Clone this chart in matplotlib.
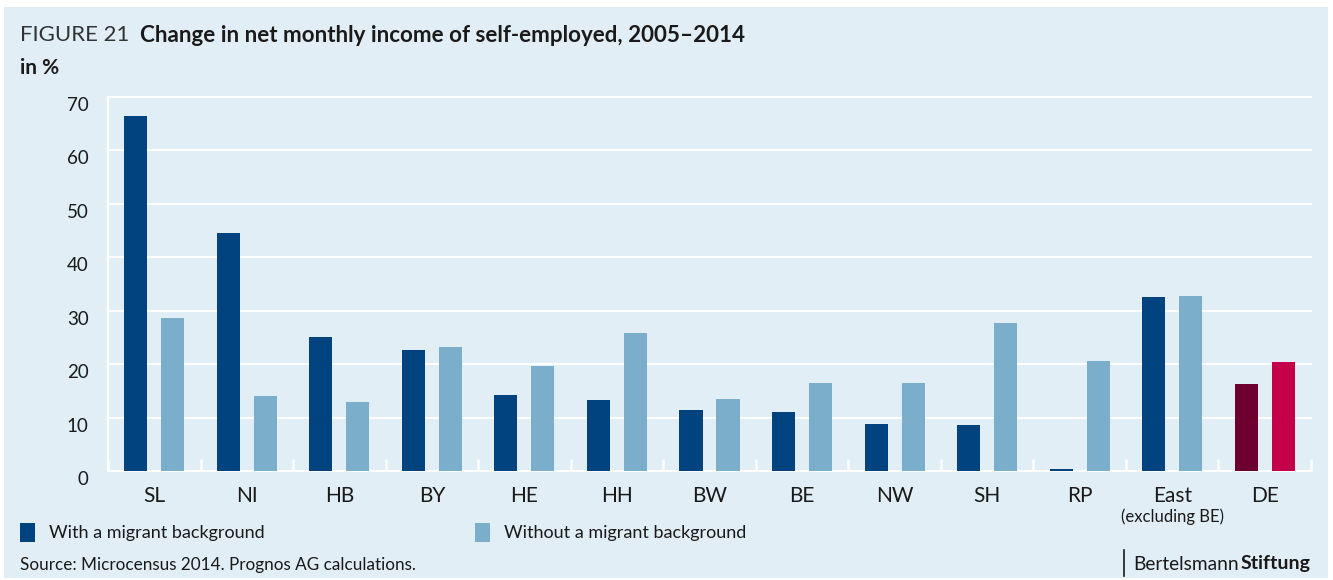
import numpy as np
import matplotlib.pyplot as plt
from matplotlib.patches import Rectangle
import matplotlib.transforms as mtransforms

plt.rcParams['font.family'] = ['Lato', 'DejaVu Sans']

# data (change in %, 2005-2014)
regions = ['SL', 'NI', 'HB', 'BY', 'HE', 'HH', 'BW', 'BE', 'NW', 'SH', 'RP', 'East', 'DE']
with_migrant = [66.4, 44.5, 25.1, 22.6, 14.2, 13.3, 11.4, 11.0, 8.8, 8.6, 0.3, 32.6, 16.3]
without_migrant = [28.6, 14.0, 12.9, 23.2, 19.7, 25.8, 13.5, 16.5, 16.5, 27.7, 20.6, 32.8, 20.4]
yticks = [0, 10, 20, 30, 40, 50, 60, 70]

bg = '#E1EEF6'
dark = '#00437F'
light = '#7AAECB'
de_dark = '#6E0030'
de_light = '#C4004A'
txt = '#1a1a1a'

fig = plt.figure(figsize=(13.33, 5.8), dpi=100)
fig.patch.set_facecolor('white')
# light blue panel with a thin white margin
fig.patches.append(Rectangle((4/1333, 2/580), 1324/1333, 571/580, transform=fig.transFigure,
                             facecolor=bg, edgecolor='none', zorder=0))

ax = fig.add_axes([108/1333, 109/580, 1203/1333, 374/580])
ax.set_zorder(2)
ax.set_facecolor(bg)

x = np.arange(len(regions))
c1 = [dark] * (len(regions) - 1) + [de_dark]
c2 = [light] * (len(regions) - 1) + [de_light]
ax.bar(x - 0.2, with_migrant, width=0.25, color=c1, zorder=3)
ax.bar(x + 0.2, without_migrant, width=0.25, color=c2, zorder=3)

ax.set_xlim(-0.5, len(regions) - 0.5)
ax.set_ylim(0, 70)
ax.set_yticks(yticks)
ax.set_yticklabels([str(v) for v in yticks], fontsize=13.5, color=txt)
ax.set_xticks(x)
ax.set_xticklabels(regions, fontsize=15, color=txt)
ax.tick_params(axis='both', length=0)
ax.tick_params(axis='y', pad=14)
ax.tick_params(axis='x', pad=11)
# y labels sit a little below their gridlines in the original
shift = mtransforms.ScaledTranslation(0, -7/100, fig.dpi_scale_trans)
for lab in ax.get_yticklabels():
    lab.set_transform(lab.get_transform() + shift)

# group separators as small white ticks on the baseline
ax.set_xticks(np.arange(-0.5, len(regions)), minor=True)
ax.tick_params(axis='x', which='minor', direction='in', length=9, width=1.8, color='white')

ax.grid(axis='y', color='white', linewidth=1.5, zorder=1)
for ln in ax.get_ygridlines():
    ln.set_clip_on(False)
for s in ['top', 'right', 'bottom']:
    ax.spines[s].set_visible(False)
ax.spines['left'].set_color('white')
ax.spines['left'].set_linewidth(1.5)

trans = mtransforms.blended_transform_factory(ax.transData, fig.transFigure)
ax.text(11, 1 - 517/580, '(excluding BE)', transform=trans, ha='center', va='center',
        fontsize=12, color=txt)

# title
fig.text(20/1333, 1 - 35/580, 'FIGURE 21', fontsize=16, color='#333333',
         va='center', ha='left')
fig.text(140/1333, 1 - 35/580, 'Change in net monthly income of self-employed, 2005\u20132014',
         fontsize=16.1, fontweight='bold', color=txt, va='center', ha='left')
fig.text(20/1333, 1 - 68/580, 'in %', fontsize=15, fontweight='bold', color=txt,
         va='center', ha='left')

# legend
for px, tx, label, col in [(20, 49, 'With a migrant background', dark),
                           (475, 504, 'Without a migrant background', light)]:
    fig.patches.append(Rectangle((px/1333, 1 - 542/580), 15/1333, 19/580,
                                 transform=fig.transFigure, facecolor=col, edgecolor='none'))
    fig.text(tx/1333, 1 - 533/580, label, fontsize=13, color=txt,
             va='center', ha='left')

fig.text(20/1333, 1 - 565/580, 'Source: Microcensus 2014. Prognos AG calculations.',
         fontsize=12.3, color=txt, va='center', ha='left')

fig.add_artist(plt.Line2D([1124/1333, 1124/1333], [1 - 576/580, 1 - 550/580],
                          color=txt, linewidth=1.2, transform=fig.transFigure))
fig.text(1241/1333, 1 - 564/580, 'Stiftung', fontsize=14, fontweight='bold', color=txt,
         va='center', ha='left')
fig.text(1239/1333, 1 - 564/580, 'Bertelsmann', fontsize=13.8, color=txt,
         va='center', ha='right')

fig.savefig('out.png', dpi=100, facecolor=fig.get_facecolor())
